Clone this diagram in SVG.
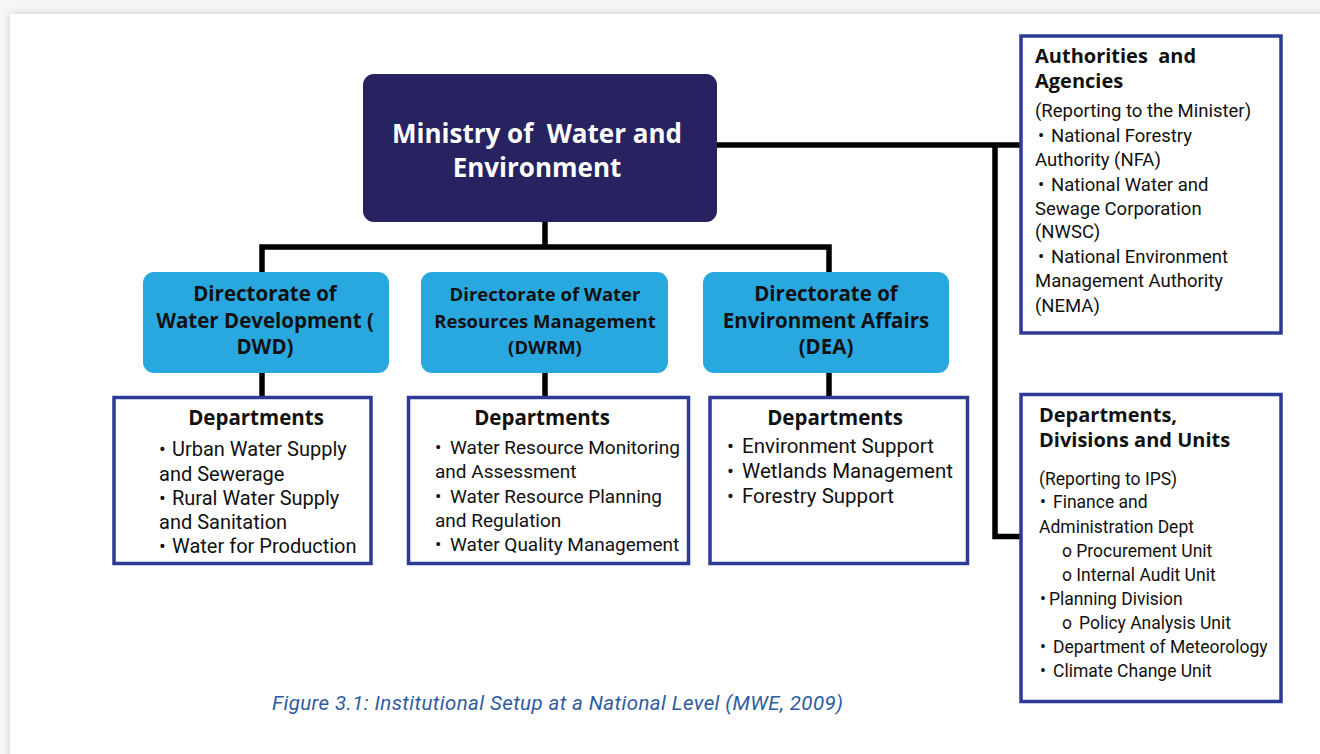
<svg xmlns="http://www.w3.org/2000/svg" width="1320" height="754" viewBox="0 0 1320 754">
<defs>
<filter id="shadow" x="-5%" y="-5%" width="110%" height="110%">
<feGaussianBlur in="SourceAlpha" stdDeviation="4"/>
<feOffset dx="0" dy="0" result="b"/>
<feComponentTransfer><feFuncA type="linear" slope="0.18"/></feComponentTransfer>
<feMerge><feMergeNode/><feMergeNode in="SourceGraphic"/></feMerge>
</filter>
<style>
.conn{fill:none;stroke:#000;stroke-width:5.5;stroke-linecap:butt;stroke-linejoin:miter}
.min{fill:#272361}
.dir{fill:#29a8e0}
.box{fill:#fff;stroke:#2e3b95;stroke-width:3.5}
.hw{font-family:"Open Sans","Liberation Sans",sans-serif;font-weight:700;fill:#fff}
.hb{font-family:"Open Sans","Liberation Sans",sans-serif;font-weight:700;fill:#111}
.tx{font-family:Roboto,"Liberation Sans",sans-serif;fill:#111}
.cap{font-family:Roboto,"Liberation Sans",sans-serif;font-style:italic;font-weight:400;fill:#2f5c9f}
</style>
</defs>
<rect x="0" y="0" width="1320" height="754" fill="#f6f6f6"/>
<rect x="10" y="14" width="1330" height="760" fill="#fff" filter="url(#shadow)"/>

<g id="connectors">
<path class="conn" d="M545 222 V247"/>
<path class="conn" d="M262 272 V247 H829 V272"/>
<path class="conn" d="M717 145 H1021"/>
<path class="conn" d="M995 145 V536.5 H1021"/>
<path class="conn" d="M262 373 V397"/>
<path class="conn" d="M545 373 V397"/>
<path class="conn" d="M829 373 V397"/>
</g>

<g id="ministry">
<rect class="min" x="363" y="74" width="354" height="148" rx="11"/>
<text class="hw" font-size="26" text-anchor="middle" xml:space="preserve"><tspan x="537" y="143">Ministry of  Water and</tspan><tspan x="537" y="177">Environment</tspan></text>
</g>

<g id="dwd">
<rect class="dir" x="143" y="272" width="246" height="101" rx="11"/>
<text class="hb" font-size="20.5" text-anchor="middle"><tspan x="265" y="301">Directorate of</tspan><tspan x="265" y="328">Water Development (</tspan><tspan x="265" y="354">DWD)</tspan></text>
</g>

<g id="dwrm">
<rect class="dir" x="421" y="272" width="247" height="101" rx="11"/>
<text class="hb" font-size="18.5" text-anchor="middle"><tspan x="545" y="301">Directorate of Water</tspan><tspan x="545" y="328">Resources Management</tspan><tspan x="545" y="354">(DWRM)</tspan></text>
</g>

<g id="dea">
<rect class="dir" x="703" y="272" width="246" height="101" rx="11"/>
<text class="hb" font-size="20.5" text-anchor="middle"><tspan x="826" y="301">Directorate of</tspan><tspan x="826" y="328">Environment Affairs</tspan><tspan x="826" y="354">(DEA)</tspan></text>
</g>

<g id="dwd-departments">
<rect class="box" x="114" y="397.5" width="257" height="166"/>
<text class="hb" font-size="20.5" text-anchor="middle" x="256" y="425">Departments</text>
<text class="tx" font-size="20">
<tspan x="159" y="456">•</tspan><tspan x="172" y="456">Urban Water Supply</tspan>
<tspan x="159" y="481">and Sewerage</tspan>
<tspan x="159" y="505">•</tspan><tspan x="172" y="505">Rural Water Supply</tspan>
<tspan x="159" y="529">and Sanitation</tspan>
<tspan x="159" y="553">•</tspan><tspan x="172" y="553">Water for Production</tspan>
</text>
</g>

<g id="dwrm-departments">
<rect class="box" x="408.5" y="397.5" width="280" height="166"/>
<text class="hb" font-size="20.5" text-anchor="middle" x="542" y="425">Departments</text>
<text class="tx" font-size="19">
<tspan x="435" y="454">•</tspan><tspan x="450" y="454">Water Resource Monitoring</tspan>
<tspan x="435" y="478">and Assessment</tspan>
<tspan x="435" y="503">•</tspan><tspan x="450" y="503">Water Resource Planning</tspan>
<tspan x="435" y="527">and Regulation</tspan>
<tspan x="435" y="551">•</tspan><tspan x="450" y="551">Water Quality Management</tspan>
</text>
</g>

<g id="dea-departments">
<rect class="box" x="710" y="397.5" width="257.5" height="166"/>
<text class="hb" font-size="20.5" text-anchor="middle" x="835" y="425">Departments</text>
<text class="tx" font-size="20.5">
<tspan x="727" y="453">•</tspan><tspan x="742" y="453">Environment Support</tspan>
<tspan x="727" y="478">•</tspan><tspan x="742" y="478">Wetlands Management</tspan>
<tspan x="727" y="503">•</tspan><tspan x="742" y="503">Forestry Support</tspan>
</text>
</g>

<g id="authorities">
<rect class="box" x="1021" y="36" width="260" height="297"/>
<text class="hb" font-size="20" xml:space="preserve"><tspan x="1035" y="63">Authorities  and</tspan><tspan x="1035" y="88">Agencies</tspan></text>
<text class="tx" font-size="18.5">
<tspan x="1035" y="117">(Reporting to the Minister)</tspan>
<tspan x="1038" y="142">•</tspan><tspan x="1051" y="142">National Forestry</tspan>
<tspan x="1035" y="166">Authority (NFA)</tspan>
<tspan x="1038" y="191">•</tspan><tspan x="1051" y="191">National Water and</tspan>
<tspan x="1035" y="215">Sewage Corporation</tspan>
<tspan x="1035" y="238">(NWSC)</tspan>
<tspan x="1038" y="263">•</tspan><tspan x="1051" y="263">National Environment</tspan>
<tspan x="1035" y="287">Management Authority</tspan>
<tspan x="1035" y="312">(NEMA)</tspan>
</text>
</g>

<g id="units">
<rect class="box" x="1021" y="394.5" width="260" height="307"/>
<text class="hb" font-size="20"><tspan x="1039" y="422">Departments,</tspan><tspan x="1039" y="447">Divisions and Units</tspan></text>
<text class="tx" font-size="17.5">
<tspan x="1039" y="485">(Reporting to IPS)</tspan>
<tspan x="1040" y="508">•</tspan><tspan x="1053" y="508">Finance and</tspan>
<tspan x="1039" y="533">Administration Dept</tspan>
<tspan x="1062" y="557">o Procurement Unit</tspan>
<tspan x="1062" y="581">o Internal Audit Unit</tspan>
<tspan x="1040" y="605">•</tspan><tspan x="1049" y="605">Planning Division</tspan>
<tspan x="1062" y="629">o</tspan><tspan x="1079" y="629">Policy Analysis Unit</tspan>
<tspan x="1040" y="653">•</tspan><tspan x="1053" y="653">Department of Meteorology</tspan>
<tspan x="1040" y="677">•</tspan><tspan x="1053" y="677">Climate Change Unit</tspan>
</text>
</g>

<text id="caption" class="cap" font-size="20.5" x="272" y="710" textLength="571" lengthAdjust="spacing">Figure 3.1: Institutional Setup at a National Level (MWE, 2009)</text>
</svg>
